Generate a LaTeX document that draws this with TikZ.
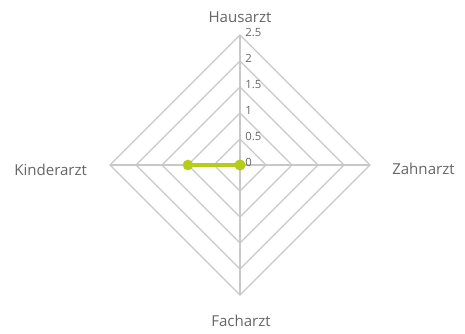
\documentclass[tikz,border=0pt]{standalone}
\usepackage{fontspec}
\setmainfont{Open Sans}
\usetikzlibrary{positioning, calc}
\definecolor{gridgray}{HTML}{C8C8C8}
\definecolor{labelgray}{HTML}{666666}
\definecolor{seriesgreen}{HTML}{B5CC18}

\begin{document}
\begin{tikzpicture}[x=0.75pt,y=-0.75pt,
    gridline/.style={draw=gridgray,line width=0.9pt},
    axislabel/.style={text=labelgray,font=\fontsize{11.3}{13}\selectfont,inner sep=0pt},
    ticklabel/.style={text=labelgray,font=\fontsize{8.5}{10}\selectfont,inner sep=0pt,anchor=base west},
    dataline/.style={draw=seriesgreen,line width=3pt},
    datapoint/.style={circle,fill=seriesgreen,minimum size=8pt,inner sep=0pt}]
    \useasboundingbox (0,0) rectangle (465,333);

    % rings and axes
    \coordinate (c) at (240,165);
    \foreach \r in {26,52,78,104,130}
      \draw[gridline] ($(c)+(0,-\r)$) -- ($(c)+(\r,0)$) -- ($(c)+(0,\r)$) -- ($(c)+(-\r,0)$) -- cycle;
    \coordinate (top) at (240,35);
    \coordinate (bottom) at (240,295);
    \coordinate (left) at (110,165);
    \coordinate (right) at (370,165);
    \draw[gridline] (top) -- (bottom);
    \draw[gridline] (left) -- (right);

    % scale
    \foreach \v [count=\i from 0] in {0,0.5,1,1.5,2,2.5}
      \node[ticklabel] (tick\i) at (245,166-26*\i) {\v};

    % categories
    \node[axislabel,anchor=base] (hausarzt) at (240,22) {Hausarzt};
    \node[axislabel,anchor=base west] (zahnarzt) at (392,174) {Zahnarzt};
    \node[axislabel,anchor=base] (facharzt) at (241,326) {Facharzt};
    \node[axislabel,anchor=base west] (kinderarzt) at (14,175) {Kinderarzt};

    % series
    \coordinate (haus) at (c);
    \coordinate (zahn) at (c);
    \coordinate (fach) at (c);
    \coordinate (kinder) at ($(c)+(-52,0)$);
    \draw[dataline] (haus) -- (zahn) -- (fach) -- (kinder) -- cycle;
    \foreach \p in {haus,zahn,fach,kinder}
      \node[datapoint] (m-\p) at (\p) {};
  \end{tikzpicture}
\end{document}
